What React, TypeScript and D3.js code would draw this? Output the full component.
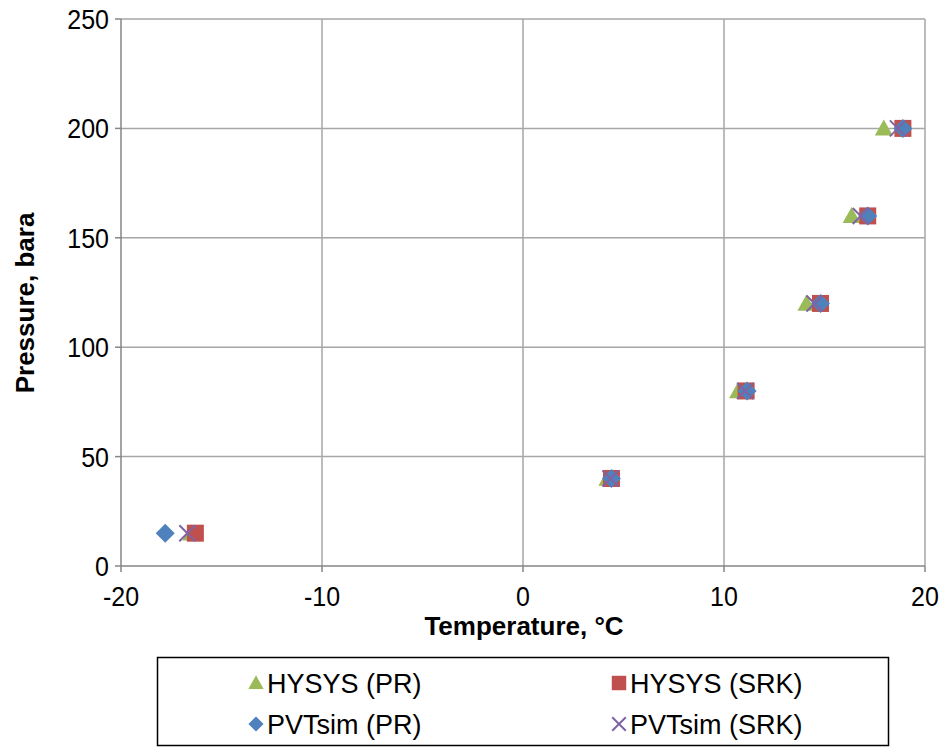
import React from "react";
import * as d3 from "d3";

const pressure = [15, 40, 80, 120, 160, 200];
const hysysPR = [-16.5, 4.2, 10.7, 14.1, 16.35, 17.95];
const hysysSRK = [-16.3, 4.4, 11.1, 14.8, 17.15, 18.9];
const pvtsimPR = [-17.8, 4.4, 11.15, 14.8, 17.15, 18.9];
const pvtsimSRK = [-16.7, 4.35, 11.05, 14.5, 16.8, 18.65];
const xTicks = [-20, -10, 0, 10, 20];
const yTicks = [0, 50, 100, 150, 200, 250];

const W = 946, H = 747;
const M = { left: 121, right: 925, top: 19, bottom: 566 };
const FONT = "'Liberation Sans', Arial, sans-serif";

type Shape = "triangle" | "square" | "diamond" | "x";
const series: { name: string; temps: number[]; shape: Shape; color: string }[] = [
  { name: "HYSYS (PR)", temps: hysysPR, shape: "triangle", color: "#9BBB59" },
  { name: "HYSYS (SRK)", temps: hysysSRK, shape: "square", color: "#C0504D" },
  { name: "PVTsim (PR)", temps: pvtsimPR, shape: "diamond", color: "#4F81BD" },
  { name: "PVTsim (SRK)", temps: pvtsimSRK, shape: "x", color: "#8064A2" },
];

function Marker({ shape, color, x, y, s = 1 }: { shape: Shape; color: string; x: number; y: number; s?: number }) {
  if (shape === "triangle") {
    const h = 9 * s;
    return <path d={`M${x},${y - h} L${x + h},${y + h * 0.8} L${x - h},${y + h * 0.8} Z`} fill={color} />;
  }
  if (shape === "square") {
    const h = 8.5 * s;
    return <rect x={x - h} y={y - h} width={2 * h} height={2 * h} fill={color} />;
  }
  if (shape === "diamond") {
    const h = 9.5 * s;
    return <path d={`M${x},${y - h} L${x + h},${y} L${x},${y + h} L${x - h},${y} Z`} fill={color} />;
  }
  const h = 8 * s;
  return (
    <g stroke={color} strokeWidth={2}>
      <line x1={x - h} y1={y - h} x2={x + h} y2={y + h} />
      <line x1={x - h} y1={y + h} x2={x + h} y2={y - h} />
    </g>
  );
}

export default function App() {
  const x = d3.scaleLinear().domain([-20, 20]).range([M.left, M.right]);
  const y = d3.scaleLinear().domain([0, 250]).range([M.bottom, M.top]);
  const grid = "#A6A6A6";
  const axis = "#868686";
  const legendCols = [256, 619];
  const legendRows = [683, 724];
  return (
    <svg width={W} height={H} style={{ position: "absolute", left: 0, top: 0 }} fontFamily={FONT}>
      <rect width={W} height={H} fill="#fff" />
      {yTicks.filter((t) => t > 0).map((t) => (
        <line key={"gy" + t} x1={M.left} x2={M.right} y1={y(t)} y2={y(t)} stroke={grid} strokeWidth={1.5} />
      ))}
      {xTicks.filter((t) => t > -20).map((t) => (
        <line key={"gx" + t} x1={x(t)} x2={x(t)} y1={M.top} y2={M.bottom} stroke={grid} strokeWidth={1.5} />
      ))}
      <line x1={M.left} x2={M.left} y1={M.top} y2={M.bottom} stroke={axis} strokeWidth={1.5} />
      <line x1={M.left} x2={M.right} y1={M.bottom} y2={M.bottom} stroke={axis} strokeWidth={1.5} />
      {yTicks.map((t) => (
        <g key={"ty" + t}>
          <line x1={M.left - 6} x2={M.left} y1={y(t)} y2={y(t)} stroke={axis} strokeWidth={1.5} />
          <text transform={`translate(${M.left - 12},${y(t)}) scale(1,1.1)`} dy="0.36em" textAnchor="end" fontSize={25} fill="#000">{t}</text>
        </g>
      ))}
      {xTicks.map((t) => (
        <g key={"tx" + t}>
          <line x1={x(t)} x2={x(t)} y1={M.bottom} y2={M.bottom + 6} stroke={axis} strokeWidth={1.5} />
          <text transform={`translate(${x(t)},606) scale(1,1.1)`} textAnchor="middle" fontSize={25} fill="#000">{t}</text>
        </g>
      ))}
      <text x={524} y={635} textAnchor="middle" fontSize={26} fontWeight="bold">Temperature, °C</text>
      <text transform={`translate(34,303) rotate(-90)`} textAnchor="middle" fontSize={26} fontWeight="bold">Pressure, bara</text>
      {series.map((s) => (
        <g key={s.name}>
          {pressure.map((p, i) => (
            <Marker key={i} shape={s.shape} color={s.color} x={x(s.temps[i])} y={y(p)} />
          ))}
        </g>
      ))}
      <rect x={157.5} y={657.5} width={731} height={88} fill="none" stroke="#000" strokeWidth={1.5} />
      {series.map((s, i) => {
        const cx = legendCols[i % 2];
        const cy = legendRows[Math.floor(i / 2)];
        return (
          <g key={"lg" + s.name}>
            <Marker shape={s.shape} color={s.color} x={cx} y={cy} s={s.shape === "diamond" ? 0.8 : 0.85} />
            <text x={cx + 11} y={cy + 10} fontSize={27}>{s.name}</text>
          </g>
        );
      })}
    </svg>
  );
}
